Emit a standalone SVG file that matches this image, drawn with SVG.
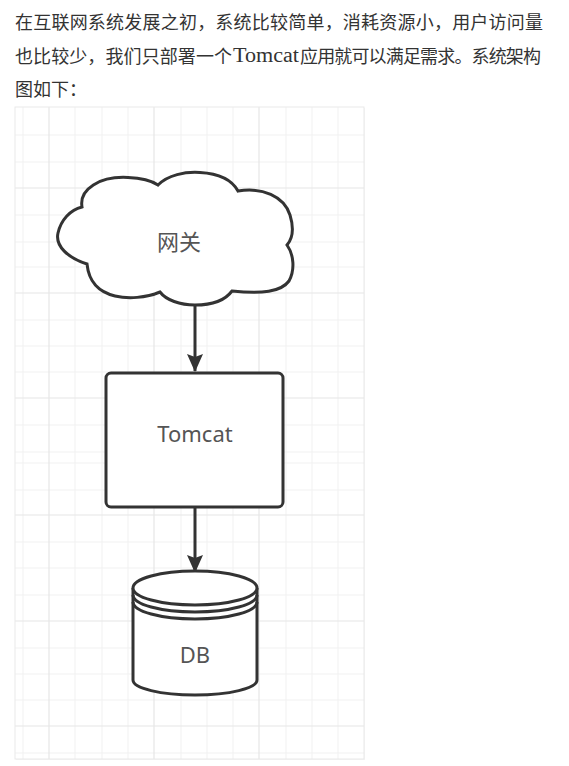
<svg xmlns="http://www.w3.org/2000/svg" width="569" height="766" viewBox="0 0 569 766">
<defs>
<style>
.head{font-family:"Noto Sans CJK SC","Noto Sans",sans-serif;font-size:18px;fill:#333}
.lat{font-family:"Liberation Serif","Noto Sans CJK SC",serif;font-size:20px;fill:#333}
.minor{stroke:#f1f1f1;stroke-width:1}
.major{stroke:#e6e6e6;stroke-width:1.2}
.shape{fill:#fff;stroke:#333;stroke-width:3}
.lbl{font-family:"Noto Sans","Noto Sans CJK SC",sans-serif;font-size:22px;fill:#555;text-anchor:middle}
.edge{stroke:#333;stroke-width:3;fill:none}
</style>
<marker id="arr" viewBox="0 0 18 16" refX="17" refY="8" markerWidth="18" markerHeight="16" markerUnits="userSpaceOnUse" orient="auto">
<path d="M0,0 L18,8 L0,16 L3,8 Z" fill="#333"/>
</marker>
</defs>
<rect width="569" height="766" fill="#fff"/>
<g id="heading">
<text class="head" x="15" y="28.5" textLength="528" lengthAdjust="spacing">在互联网系统发展之初，系统比较简单，消耗资源小，用户访问量</text>
<text class="head" x="15" y="62.5" textLength="217" lengthAdjust="spacing">也比较少，我们只部署一个</text>
<text class="lat" x="233" y="61.5" textLength="66" lengthAdjust="spacingAndGlyphs">Tomcat</text>
<text class="head" x="300" y="62.5" textLength="241" lengthAdjust="spacing">应用就可以满足需求。系统架构</text>
<text class="head" x="15" y="96">图如下：</text>
</g>
<g id="panel">
<rect x="16" y="108" width="349" height="652" fill="#f5f5f5"/>
<rect x="15" y="107" width="349" height="652" fill="#fff"/>
<g class="minor">
<line x1="23" y1="107" x2="23" y2="759"/>
<line x1="75" y1="107" x2="75" y2="759"/>
<line x1="102" y1="107" x2="102" y2="759"/>
<line x1="128" y1="107" x2="128" y2="759"/>
<line x1="181" y1="107" x2="181" y2="759"/>
<line x1="207" y1="107" x2="207" y2="759"/>
<line x1="233" y1="107" x2="233" y2="759"/>
<line x1="286" y1="107" x2="286" y2="759"/>
<line x1="312" y1="107" x2="312" y2="759"/>
<line x1="338" y1="107" x2="338" y2="759"/>
<line x1="15" y1="135" x2="364" y2="135"/>
<line x1="15" y1="162" x2="364" y2="162"/>
<line x1="15" y1="215" x2="364" y2="215"/>
<line x1="15" y1="242" x2="364" y2="242"/>
<line x1="15" y1="267" x2="364" y2="267"/>
<line x1="15" y1="320" x2="364" y2="320"/>
<line x1="15" y1="346" x2="364" y2="346"/>
<line x1="15" y1="372" x2="364" y2="372"/>
<line x1="15" y1="425" x2="364" y2="425"/>
<line x1="15" y1="452" x2="364" y2="452"/>
<line x1="15" y1="463" x2="364" y2="463"/>
<line x1="15" y1="490" x2="364" y2="490"/>
<line x1="15" y1="542" x2="364" y2="542"/>
<line x1="15" y1="568" x2="364" y2="568"/>
<line x1="15" y1="595" x2="364" y2="595"/>
<line x1="15" y1="648" x2="364" y2="648"/>
<line x1="15" y1="674" x2="364" y2="674"/>
<line x1="15" y1="700" x2="364" y2="700"/>
<line x1="15" y1="753" x2="364" y2="753"/>
</g>
<g class="major">
<line x1="49" y1="107" x2="49" y2="759"/>
<line x1="154" y1="107" x2="154" y2="759"/>
<line x1="259" y1="107" x2="259" y2="759"/>
<line x1="15" y1="188" x2="364" y2="188"/>
<line x1="15" y1="293" x2="364" y2="293"/>
<line x1="15" y1="398" x2="364" y2="398"/>
<line x1="15" y1="515" x2="364" y2="515"/>
<line x1="15" y1="621" x2="364" y2="621"/>
<line x1="15" y1="726" x2="364" y2="726"/>
</g>
<rect x="15" y="107" width="349" height="652" fill="none" stroke="#e9e9e9" stroke-width="1"/>
</g>
<g id="connectors">
<line class="edge" x1="195" y1="304" x2="195" y2="371" marker-end="url(#arr)"/>
<line class="edge" x1="195" y1="508" x2="195" y2="572" marker-end="url(#arr)"/>
</g>
<g id="gateway">
<path class="shape" d="M82,207 C79,189 100,176 128,177.5 C142,178 152,181 158,185 C168,175 185,171.5 200,172.5 C218,173.5 232,180 238,191 C262,187 284,196 290,215 C294,228 293,238 287,245 C294,255 295,270 289,281 C281,292 262,294 232,291 C224,302 208,305 195,305 C180,305 166,300 160,292 C146,298 128,299 115,296 C99,292 89,283 87,264 C68,258 55,246 58,233 C61,220 70,210 82,207 Z"/>
<text class="lbl" x="179" y="250" style="font-family:'Noto Sans CJK SC',sans-serif">网关</text>
</g>
<g id="tomcat">
<rect class="shape" x="106" y="373" width="177" height="134" rx="5"/>
<text class="lbl" x="195" y="442">Tomcat</text>
</g>
<g id="db">
<path class="shape" d="M133,588 L133,680 A62,15 0 0 0 257,680 L257,588"/>
<ellipse class="shape" cx="195" cy="588" rx="62" ry="17"/>
<path class="edge" d="M133,595 A62,17 0 0 0 257,595 M133,602 A62,17 0 0 0 257,602"/>
<text class="lbl" x="195" y="663">DB</text>
</g>
</svg>
